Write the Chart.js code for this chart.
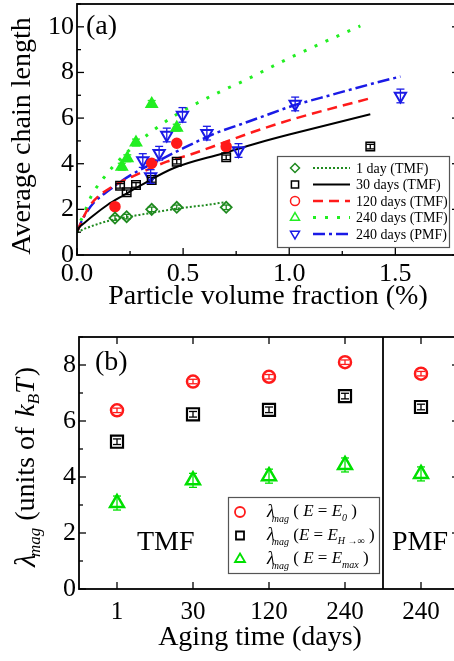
<!DOCTYPE html>
<html>
<head>
<meta charset="utf-8">
<script src="https://cdn.jsdelivr.net/npm/chart.js@4.4.1/dist/chart.umd.min.js"></script>
<style>
	html, body { margin: 0; padding: 0; background: #fff; overflow: hidden; width: 454px; height: 661px; }
	#wrap { position: relative; width: 454px; height: 661px; overflow: hidden; }
	canvas { position: absolute; left: 0; }
	#chartA { top: 0; }
	#chartB { top: 330px; }
</style>
</head>
<body>
<div id="wrap">
<canvas id="chartA" width="462" height="330"></canvas>
<canvas id="chartB" width="462" height="331"></canvas>
</div>
<script>
"use strict"

// ---- panel (a): average chain length vs particle volume fraction ----
const phi1day = [0.179, 0.234, 0.352, 0.47, 0.703]
const len1day = [1.62, 1.68, 2.0, 2.09, 2.09]
const err1day = [0.1, 0.1, 0.1, 0.1, 0.1]

const phi30 = [0.203, 0.234, 0.278, 0.352, 0.47, 0.703, 1.382]
const len30 = [3.03, 2.75, 3.07, 3.29, 4.09, 4.28, 4.75]
const err30 = [0.1, 0.1, 0.1, 0.1, 0.1, 0.1, 0.1]

const phi120 = [0.179, 0.352, 0.47, 0.703]
const len120 = [2.12, 4.02, 4.9, 4.75]
const err120 = [0.12, 0.12, 0.12, 0.12]

const phi240 = [0.211, 0.237, 0.278, 0.352, 0.47]
const len240 = [3.87, 4.24, 4.93, 6.62, 5.58]
const err240 = [0.15, 0.15, 0.15, 0.15, 0.15]

const phiPMF = [0.31, 0.347, 0.387, 0.423, 0.497, 0.612, 0.761, 1.028, 1.524]
const lenPMF = [4.14, 3.44, 4.46, 5.26, 6.14, 5.34, 4.58, 6.62, 6.97]
const errPMF = [0.3, 0.3, 0.3, 0.3, 0.32, 0.3, 0.3, 0.3, 0.3]

// fitted curves
const fit1dayPhi = [0, 0.05, 0.15, 0.34, 0.5, 0.61, 0.7]
const fit1dayLen = [1.0, 1.2, 1.5, 1.83, 2.07, 2.19, 2.32]

const fit30Phi = [0, 0.01, 0.033, 0.08, 0.143, 0.222, 0.3, 0.454, 0.69, 0.848, 1.0, 1.382]
const fit30Len = [1.0, 1.2, 1.39, 1.75, 2.19, 2.63, 3.05, 3.8, 4.46, 4.9, 5.28, 6.17]

const fit120Phi = [0, 0.03, 0.072, 0.167, 0.3, 0.423, 0.533, 0.675, 0.832, 1.005, 1.382]
const fit120Len = [1.0, 1.65, 2.3, 3.0, 3.6, 4.09, 4.4, 4.87, 5.4, 5.92, 6.87]

const fit240Phi = [0, 0.01, 0.027, 0.066, 0.137, 0.2, 0.274, 0.352, 0.454, 0.565, 0.675, 0.785, 1.005, 1.335]
const fit240Len = [1.0, 1.35, 1.68, 2.56, 3.51, 4.17, 4.82, 5.41, 6.07, 6.65, 7.16, 7.63, 8.65, 10.04]

const fitPMFPhi = [0, 0.02, 0.042, 0.08, 0.152, 0.255, 0.392, 0.501, 0.643, 0.769, 0.848, 1.02, 1.2, 1.413, 1.524]
const fitPMFLen = [1.0, 1.45, 1.83, 2.3, 2.85, 3.51, 4.17, 4.68, 5.3, 5.72, 5.98, 6.55, 7.02, 7.56, 7.82]

const legendLabelsA = ["1 day (TMF)", "30 days (TMF)", "120 days (TMF)", "240 days (TMF)", "240 days (PMF)"]

// ---- panel (b): magnetic coupling vs aging time ----
const agingLabels = ["1", "30", "120", "240", "240"]
const lamE0 = [6.38, 7.41, 7.58, 8.1, 7.69]
const lamEinf = [5.26, 6.24, 6.4, 6.89, 6.5]
const lamEmax = [3.07, 3.88, 4.03, 4.43, 4.11]
const errE0 = [0.08, 0.08, 0.08, 0.08, 0.08]
const errEinf = [0.1, 0.1, 0.1, 0.1, 0.1]
const errEmax = [0.25, 0.25, 0.25, 0.25, 0.25]

const FONT = "'Liberation Serif', 'Times New Roman', serif"
Chart.defaults.font.family = FONT
Chart.defaults.color = "#000"

const DKGREEN = "#1f8a1f"
const RED = "#ff1a1a"
const LIME = "#22ee22"
const BLUE = "#1a1ae6"

const stylesA = [
	{ color: DKGREEN, marker: "rectRot", dash: [2, 2], width: 2 },
	{ color: "#000", marker: "rect", dash: [], width: 2 },
	{ color: RED, marker: "circle", dash: [10, 6], width: 2.5 },
	{ color: LIME, marker: "triangle", dash: [3, 9], width: 3 },
	{ color: BLUE, marker: "triangleDown", dash: [12, 4, 3, 4], width: 2.5 },
]

const pts = (xs, ys) => xs.map((x, i) => ({ x: x, y: ys[i] }))
const isMultiple = (v, step) => Math.abs(v / step - Math.round(v / step)) < 1e-6

// keep the plot box where we put it: no extra room for edge labels
const fixBox = (w, h) => (s) => {
	if (w) s.width = w
	if (h) s.height = h
	s.paddingTop = 0
	s.paddingBottom = 0
	s.paddingLeft = 0
	s.paddingRight = 0
}

function strokeLine(ctx, x1, y1, x2, y2) {
	ctx.beginPath()
	ctx.moveTo(x1, y1)
	ctx.lineTo(x2, y2)
	ctx.stroke()
}

function drawMarker(ctx, style, x, y, r) {
	ctx.beginPath()
	if (style === "circle") {
		ctx.arc(x, y, r, 0, Math.PI * 2)
	} else if (style === "rect") {
		ctx.rect(x - r * 0.8, y - r * 0.8, r * 1.6, r * 1.6)
	} else if (style === "rectRot") {
		ctx.moveTo(x - r, y); ctx.lineTo(x, y - r); ctx.lineTo(x + r, y); ctx.lineTo(x, y + r); ctx.closePath()
	} else if (style === "triangle") {
		ctx.moveTo(x, y - r * 1.1); ctx.lineTo(x + r, y + r * 0.6); ctx.lineTo(x - r, y + r * 0.6); ctx.closePath()
	} else if (style === "triangleDown") {
		ctx.moveTo(x, y + r * 1.1); ctx.lineTo(x + r, y - r * 0.6); ctx.lineTo(x - r, y - r * 0.6); ctx.closePath()
	}
	ctx.stroke()
}

// text made of pieces with their own fonts and baseline shifts
function drawRich(ctx, pieces, x, y, align) {
	let total = 0
	pieces.forEach((p) => {
		ctx.font = p.font
		total += ctx.measureText(p.t).width + (p.kern || 0)
	})
	let cx = align === "center" ? x - total / 2 : x
	ctx.textAlign = "left"
	ctx.textBaseline = "middle"
	pieces.forEach((p) => {
		ctx.font = p.font
		cx += p.kern || 0
		ctx.fillText(p.t, cx, y + (p.dy || 0))
		cx += ctx.measureText(p.t).width
	})
}

const errorBars = {
	id: "errorBars",
	afterDatasetsDraw(chart) {
		const { ctx } = chart
		const yScale = chart.scales.y
		chart.data.datasets.forEach((ds, i) => {
			if (!ds.errors) return
			const meta = chart.getDatasetMeta(i)
			ctx.save()
			ctx.strokeStyle = ds.borderColor
			ctx.lineWidth = 1.3
			meta.data.forEach((pt, j) => {
				const v = typeof ds.data[j] === "object" ? ds.data[j].y : ds.data[j]
				const top = yScale.getPixelForValue(v + ds.errors[j])
				const bot = yScale.getPixelForValue(v - ds.errors[j])
				strokeLine(ctx, pt.x, top, pt.x, bot)
				strokeLine(ctx, pt.x - 4, top, pt.x + 4, top)
				strokeLine(ctx, pt.x - 4, bot, pt.x + 4, bot)
			})
			ctx.restore()
		})
	},
}

const frameA = {
	id: "frameA",
	afterDraw(chart) {
		const { ctx, chartArea: a, scales: { x, y } } = chart
		ctx.save()
		ctx.strokeStyle = "#000"
		ctx.lineWidth = 1.8
		ctx.strokeRect(a.left, a.top, a.right - a.left, a.bottom - a.top)
		ctx.lineWidth = 1.3
		x.ticks.forEach((t) => {
			if (!isMultiple(t.value, 0.25)) return
			const px = x.getPixelForValue(t.value)
			const len = isMultiple(t.value, 0.5) ? 7 : 4
			strokeLine(ctx, px, a.bottom, px, a.bottom - len)
		})
		y.ticks.forEach((t) => {
			const py = y.getPixelForValue(t.value)
			const len = t.value % 2 === 0 ? 7 : 4
			strokeLine(ctx, a.left, py, a.left + len, py)
			strokeLine(ctx, a.right, py, a.right - len, py)
		})

		ctx.fillStyle = "#000"
		ctx.font = "28px " + FONT
		ctx.textBaseline = "middle"
		ctx.textAlign = "left"
		ctx.fillText("(a)", a.left + 9, a.top + 23)

		// y title, sitting a little below the middle of the axis
		ctx.save()
		ctx.translate(23, 136)
		ctx.rotate(-Math.PI / 2)
		ctx.textAlign = "center"
		ctx.fillText("Average chain length", 0, 0)
		ctx.restore()

		// legend
		const lx = 277, ly = 156
		ctx.fillStyle = "#fff"
		ctx.fillRect(lx, ly, 172, 91)
		ctx.strokeStyle = "#555"
		ctx.lineWidth = 1.2
		ctx.strokeRect(lx + 0.5, ly + 0.5, 172, 91)
		stylesA.forEach((s, i) => {
			const ry = ly + 12 + i * 16.5
			ctx.strokeStyle = s.color
			ctx.lineWidth = 1.5
			drawMarker(ctx, s.marker, lx + 18, ry, 4.5)
			ctx.lineWidth = s.width
			ctx.setLineDash(s.dash)
			strokeLine(ctx, lx + 36, ry, lx + 73, ry)
			ctx.setLineDash([])
			ctx.fillStyle = "#000"
			ctx.font = "14px " + FONT
			ctx.textAlign = "left"
			ctx.textBaseline = "middle"
			ctx.fillText(legendLabelsA[i], lx + 79, ry + 1)
		})
		ctx.restore()
	},
}

function markerSet(xs, ys, errs, s, radius, filled, bw) {
	return {
		data: pts(xs, ys),
		errors: errs,
		showLine: false,
		pointStyle: s.marker === "triangleDown" ? "triangle" : s.marker,
		rotation: s.marker === "triangleDown" ? 180 : 0,
		pointRadius: radius,
		pointBorderWidth: bw,
		borderColor: s.color,
		pointBorderColor: s.color,
		pointBackgroundColor: filled ? s.color : "rgba(255,255,255,0)",
	}
}

function curveSet(xs, ys, s) {
	return {
		data: pts(xs, ys),
		showLine: true,
		pointRadius: 0,
		borderColor: s.color,
		borderWidth: s.width,
		borderDash: s.dash,
		cubicInterpolationMode: "monotone",
		fill: false,
	}
}

new Chart(document.getElementById("chartA"), {
	type: "scatter",
	data: {
		datasets: [
			markerSet(phi1day, len1day, err1day, stylesA[0], 5.5, false, 1.8),
			markerSet(phi30, len30, err30, stylesA[1], 6, false, 1.5),
			markerSet(phi120, len120, err120, stylesA[2], 5, true, 1.5),
			markerSet(phi240, len240, err240, stylesA[3], 6.5, true, 1.5),
			markerSet(phiPMF, lenPMF, errPMF, stylesA[4], 6.5, false, 2),
			curveSet(fit1dayPhi, fit1dayLen, stylesA[0]),
			curveSet(fit30Phi, fit30Len, stylesA[1]),
			curveSet(fit120Phi, fit120Len, stylesA[2]),
			curveSet(fit240Phi, fit240Len, stylesA[3]),
			curveSet(fitPMFPhi, fitPMFLen, stylesA[4]),
		],
	},
	options: {
		responsive: false,
		animation: false,
		events: [],
		devicePixelRatio: 1,
		layout: { autoPadding: false, padding: { top: 4, right: 3, bottom: 0, left: 0 } },
		plugins: { legend: { display: false }, tooltip: { enabled: false } },
		scales: {
			x: {
				type: "linear",
				min: 0,
				max: 1.8,
				grid: { display: false, drawTicks: false },
				border: { display: false },
				ticks: {
					stepSize: 0.25,
					autoSkip: false,
					maxRotation: 0,
					padding: 4,
					font: { size: 26 },
					callback: (v) => (isMultiple(v, 0.5) ? v.toFixed(1) : ""),
				},
				title: { display: true, text: "Particle volume fraction (%)", font: { size: 28 }, padding: { top: 0, bottom: 17 } },
				afterFit: fixBox(0, 75),
			},
			y: {
				min: 0,
				max: 11,
				grid: { display: false, drawTicks: false },
				border: { display: false },
				ticks: {
					stepSize: 1,
					autoSkip: false,
					padding: 3,
					font: { size: 26 },
					callback: (v) => (v % 2 === 0 ? String(v) : ""),
				},
				afterFit: fixBox(77, 0),
			},
		},
	},
	plugins: [errorBars, frameA],
})

// ---- panel (b) ----
const stylesB = [
	{ color: RED, marker: "circle" },
	{ color: "#000", marker: "rect" },
	{ color: "#00e000", marker: "triangle" },
]

const frameB = {
	id: "frameB",
	afterDraw(chart) {
		const { ctx, chartArea: a, scales: { x, y } } = chart
		ctx.save()
		ctx.strokeStyle = "#000"
		ctx.lineWidth = 1.8
		ctx.strokeRect(a.left, a.top, a.right - a.left, a.bottom - a.top)
		// TMF | PMF separator
		const sep = (x.getPixelForTick(3) + x.getPixelForTick(4)) / 2
		strokeLine(ctx, sep, a.top, sep, a.bottom)
		ctx.lineWidth = 1.3
		x.ticks.forEach((t, i) => {
			const px = x.getPixelForTick(i)
			strokeLine(ctx, px, a.bottom, px, a.bottom - 7)
			strokeLine(ctx, px, a.top, px, a.top + 7)
		})
		y.ticks.forEach((t) => {
			const py = y.getPixelForValue(t.value)
			const len = t.value % 2 === 0 ? 7 : 4
			strokeLine(ctx, a.left, py, a.left + len, py)
			strokeLine(ctx, a.right, py, a.right - len, py)
		})

		ctx.fillStyle = "#000"
		ctx.font = "28px " + FONT
		ctx.textBaseline = "middle"
		ctx.textAlign = "left"
		ctx.fillText("(b)", a.left + 16, a.top + 26)
		ctx.textBaseline = "alphabetic"
		ctx.fillText("TMF", 137, 220)
		ctx.fillText("PMF", 392, 220)

		// x title, centred under the visible part of the axis
		ctx.textAlign = "center"
		ctx.textBaseline = "middle"
		ctx.fillText("Aging time (days)", 260, 308)

		// rotated y title
		ctx.save()
		ctx.translate(27, (a.top + a.bottom) / 2 + 4)
		ctx.rotate(-Math.PI / 2)
		drawRich(ctx, [
			{ t: "λ", font: "italic 30px " + FONT },
			{ t: "mag", font: "italic 17px " + FONT, dy: 9, kern: -3 },
			{ t: " (units of ", font: "28px " + FONT },
			{ t: "k", font: "italic 28px " + FONT, kern: 3 },
			{ t: "B", font: "italic 17px " + FONT, dy: 8 },
			{ t: "T", font: "italic 28px " + FONT },
			{ t: ")", font: "28px " + FONT, kern: 2 },
		], 0, 0, "center")
		ctx.restore()

		// legend
		const lx = 228, ly = 167
		ctx.fillStyle = "#fff"
		ctx.fillRect(lx, ly, 151, 76)
		ctx.strokeStyle = "#555"
		ctx.lineWidth = 1.2
		ctx.strokeRect(lx + 0.5, ly + 0.5, 151, 76)
		const subs = ["0", "H →∞", "max"]
		const gaps = [[" ( ", " )"], [" (", " )"], [" ( ", " )"]]
		stylesB.forEach((s, i) => {
			const ry = ly + 15 + i * 23.5
			ctx.strokeStyle = s.color
			ctx.lineWidth = 1.8
			drawMarker(ctx, s.marker, lx + 12, ry, 5)
			ctx.fillStyle = "#000"
			drawRich(ctx, [
				{ t: "λ", font: "italic 18px " + FONT },
				{ t: "mag", font: "italic 10px " + FONT, dy: 7, kern: -3 },
				{ t: gaps[i][0], font: "17px " + FONT },
				{ t: "E", font: "italic 17px " + FONT },
				{ t: " = ", font: "17px " + FONT },
				{ t: "E", font: "italic 17px " + FONT },
				{ t: subs[i], font: "italic 10px " + FONT, dy: 6 },
				{ t: gaps[i][1], font: "17px " + FONT },
			], lx + 39, ry, "left")
		})
		ctx.restore()
	},
}

function pointSetB(values, errs, s, radius, bw) {
	return {
		data: values,
		errors: errs,
		showLine: false,
		fill: false,
		pointStyle: s.marker,
		pointRadius: radius,
		pointBorderWidth: bw,
		borderColor: s.color,
		pointBorderColor: s.color,
		pointBackgroundColor: "rgba(255,255,255,0)",
	}
}

new Chart(document.getElementById("chartB"), {
	type: "line",
	data: {
		labels: agingLabels,
		datasets: [
			pointSetB(lamE0, errE0, stylesB[0], 6, 2.5),
			pointSetB(lamEinf, errEinf, stylesB[1], 8.5, 2.2),
			pointSetB(lamEmax, errEmax, stylesB[2], 8, 2.5),
		],
	},
	options: {
		responsive: false,
		animation: false,
		events: [],
		devicePixelRatio: 1,
		layout: { autoPadding: false, padding: { top: 7, right: 3, bottom: 0, left: 0 } },
		plugins: { legend: { display: false }, tooltip: { enabled: false } },
		scales: {
			x: {
				type: "category",
				offset: true,
				grid: { display: false, drawTicks: false, offset: true },
				border: { display: false },
				ticks: { autoSkip: false, maxRotation: 0, padding: 8, font: { size: 25 } },
				afterFit: fixBox(0, 72),
			},
			y: {
				min: 0,
				max: 9,
				grid: { display: false, drawTicks: false },
				border: { display: false },
				ticks: {
					stepSize: 1,
					autoSkip: false,
					padding: 3,
					font: { size: 26 },
					callback: (v) => (v % 2 === 0 ? String(v) : ""),
				},
				afterFit: fixBox(79, 0),
			},
		},
	},
	plugins: [errorBars, frameB],
})
</script>
</body>
</html>
